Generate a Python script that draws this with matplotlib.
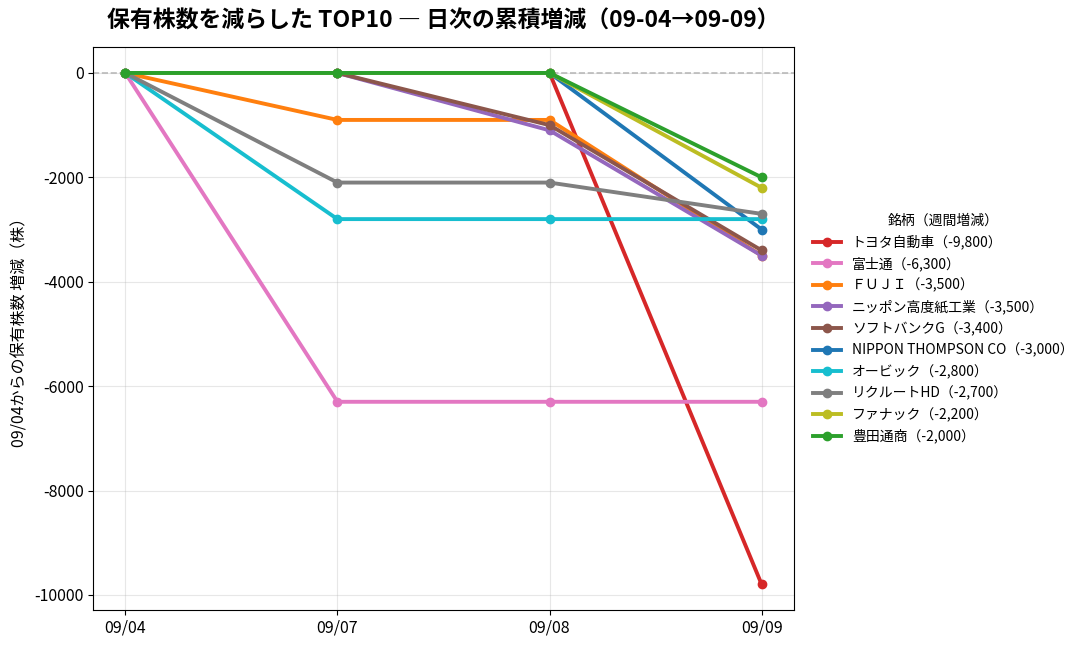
import numpy as np
import matplotlib.pyplot as plt

plt.rcParams['font.family'] = ['Noto Sans CJK JP', 'DejaVu Sans']
plt.rcParams['axes.unicode_minus'] = False

dates = ['09/04', '09/07', '09/08', '09/09']

names = ['トヨタ自動車', '富士通', 'ＦＵＪＩ', 'ニッポン高度紙工業', 'ソフトバンクG',
         'NIPPON THOMPSON CO', 'オービック', 'リクルートHD', 'ファナック', '豊田通商']

toyota = [0, 0, 0, -9800]
fujitsu = [0, -6300, -6300, -6300]
fuji = [0, -900, -900, -3500]
nippon_kodoshi = [0, 0, -1100, -3500]
softbank = [0, 0, -1000, -3400]
thompson = [0, 0, 0, -3000]
obic = [0, -2800, -2800, -2800]
recruit = [0, -2100, -2100, -2700]
fanuc = [0, 0, 0, -2200]
toyota_tsusho = [0, 0, 0, -2000]

series = [toyota, fujitsu, fuji, nippon_kodoshi, softbank,
          thompson, obic, recruit, fanuc, toyota_tsusho]
colors = ['tab:red', 'tab:pink', 'tab:orange', 'tab:purple', 'tab:brown',
          'tab:blue', 'tab:cyan', 'tab:gray', 'tab:olive', 'tab:green']

fig, ax = plt.subplots(figsize=(10.87, 6.49), dpi=100)
x = np.arange(len(dates))

ax.axhline(0, color='#bbbbbb', linestyle='--', linewidth=1.2, zorder=1)
for name, vals, c in zip(names, series, colors):
    total = vals[-1]
    ax.plot(x, vals, marker='o', markersize=6, linewidth=2.8, color=c,
            label=f'{name}（{total:,}）', zorder=3)

ax.set_xticks(x)
ax.set_xticklabels(dates)
ax.tick_params(labelsize=11.5)
ax.grid(True, alpha=0.3)
ax.set_ylabel('09/04からの保有株数 増減（株）', fontsize=11.5)
ax.set_title('保有株数を減らした TOP10 ― 日次の累積増減（09-04→09-09）',
             fontsize=16.5, fontweight='bold', pad=14)
ax.legend(title='銘柄（週間増減）', loc='center left', bbox_to_anchor=(1.01, 0.5),
          frameon=False, fontsize=10, title_fontsize=10)

fig.subplots_adjust(left=0.086, right=0.730, top=0.927, bottom=0.06)
fig.savefig('out.png')
